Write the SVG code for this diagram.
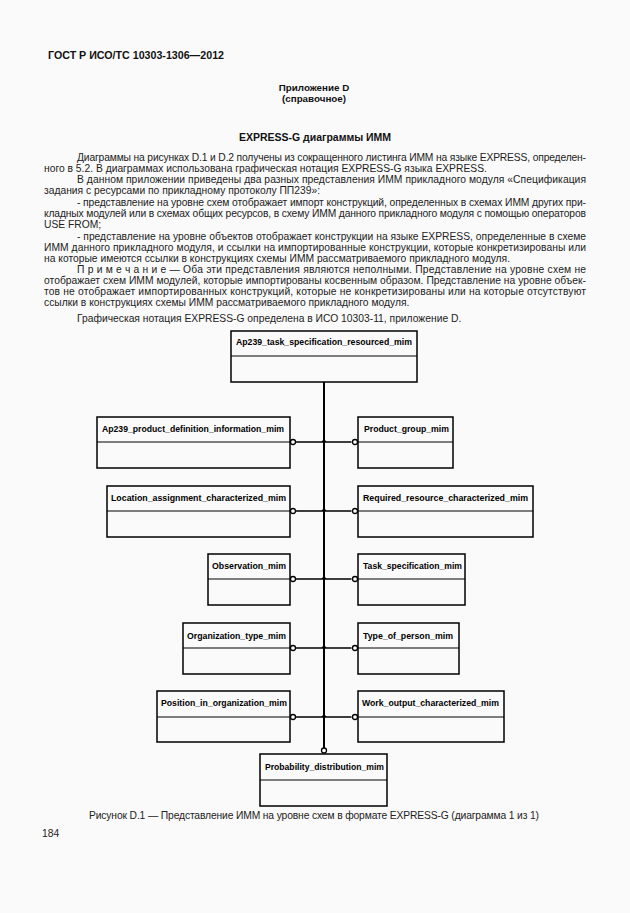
<svg xmlns="http://www.w3.org/2000/svg" width="630" height="913" viewBox="0 0 630 913">
<style>
.t{font-family:"Liberation Sans",Arial,sans-serif;font-size:10.3px;fill:#222}
.h{font-family:"Liberation Sans",Arial,sans-serif;font-weight:bold;fill:#111}
.box{fill:none;stroke:#000;stroke-width:1.5}
.div{stroke:#000;stroke-width:1}
.lbl{font-family:"Liberation Sans",Arial,sans-serif;font-weight:bold;font-size:8.5px;fill:#000}
.br{stroke:#000;stroke-width:1.4;fill:none}
.trunk{stroke:#000;stroke-width:2;fill:none}
.circ{fill:#fff;stroke:#000;stroke-width:1.3}
</style>
<rect width="630" height="913" fill="#fafafa"/>
<text class="h" x="48" y="59" font-size="10.5" textLength="176" lengthAdjust="spacingAndGlyphs">ГОСТ Р ИСО/ТС 10303-1306—2012</text>
<text class="h" x="314" y="91" font-size="9.8" text-anchor="middle">Приложение D</text>
<text class="h" x="314" y="101.5" font-size="9.8" text-anchor="middle">(справочное)</text>
<text class="h" x="315" y="141" font-size="10.5" text-anchor="middle">EXPRESS-G диаграммы ИММ</text>
<g id="body">
<text class="t" x="77" y="160.5" textLength="509" lengthAdjust="spacing">Диаграммы на рисунках D.1 и D.2 получены из сокращенного листинга ИММ на языке EXPRESS, определен-</text>
<text class="t" x="44" y="171.5">ного в 5.2. В диаграммах использована графическая нотация EXPRESS-G языка EXPRESS.</text>
<text class="t" x="77" y="183" textLength="509" lengthAdjust="spacing">В данном приложении приведены два разных представления ИММ прикладного модуля «Спецификация</text>
<text class="t" x="44" y="194">задания с ресурсами по прикладному протоколу ПП239»:</text>
<text class="t" x="77" y="206" textLength="509" lengthAdjust="spacing">- представление на уровне схем отображает импорт конструкций, определенных в схемах ИММ других при-</text>
<text class="t" x="44" y="216.5" textLength="542" lengthAdjust="spacing">кладных модулей или в схемах общих ресурсов, в схему ИММ данного прикладного модуля с помощью операторов</text>
<text class="t" x="44" y="227.5">USE FROM;</text>
<text class="t" x="77" y="240" textLength="509" lengthAdjust="spacing">- представление на уровне объектов отображает конструкции на языке EXPRESS, определенные в схеме</text>
<text class="t" x="44" y="250.5" textLength="542" lengthAdjust="spacing">ИММ данного прикладного модуля, и ссылки на импортированные конструкции, которые конкретизированы или</text>
<text class="t" x="44" y="261.5">на которые имеются ссылки в конструкциях схемы ИММ рассматриваемого прикладного модуля.</text>
<text class="t" x="77" y="273" textLength="509" lengthAdjust="spacing">П р и м е ч а н и е — Оба эти представления являются неполными. Представление на уровне схем не</text>
<text class="t" x="44" y="283.5" textLength="542" lengthAdjust="spacing">отображает схем ИММ модулей, которые импортированы косвенным образом. Представление на уровне объек-</text>
<text class="t" x="44" y="294.5" textLength="542" lengthAdjust="spacing">тов не отображает импортированных конструкций, которые не конкретизированы или на которые отсутствуют</text>
<text class="t" x="44" y="305.5">ссылки в конструкциях схемы ИММ рассматриваемого прикладного модуля.</text>
<text class="t" x="77" y="321.5">Графическая нотация EXPRESS-G определена в ИСО 10303-11, приложение D.</text>
</g>
<g id="connectors">
<path class="trunk" d="M324,382 V748"/>
<path class="br" d="M295.5,442 H351.5 M295.5,511 H351.5 M295.5,579 H351.5 M295.5,648 H351.5 M295.5,717 H351.5"/>
<path d="M321.5,442 L324,438.5 L326.5,442 Z M321.5,511 L324,507.5 L326.5,511 Z M321.5,579 L324,575.5 L326.5,579 Z M321.5,648 L324,644.5 L326.5,648 Z M321.5,717 L324,713.5 L326.5,717 Z" fill="#000"/>
<circle class="circ" cx="293" cy="442" r="2.5"/><circle class="circ" cx="355" cy="442" r="2.5"/>
<circle class="circ" cx="293" cy="511" r="2.5"/><circle class="circ" cx="355" cy="511" r="2.5"/>
<circle class="circ" cx="293" cy="579" r="2.5"/><circle class="circ" cx="355" cy="579" r="2.5"/>
<circle class="circ" cx="293" cy="648" r="2.5"/><circle class="circ" cx="355" cy="648" r="2.5"/>
<circle class="circ" cx="293" cy="717" r="2.5"/><circle class="circ" cx="355" cy="717" r="2.5"/>
<circle class="circ" cx="324" cy="750.5" r="2.5"/>
</g>
<g id="n_top"><rect class="box" x="231" y="331" width="186" height="51"/><line class="div" x1="231" y1="356" x2="417" y2="356"/><text class="lbl" x="236" y="345" textLength="176" lengthAdjust="spacingAndGlyphs">Ap239_task_specification_resourced_mim</text></g>
<g id="n_pdi"><rect class="box" x="97" y="417" width="193" height="51"/><line class="div" x1="97" y1="442" x2="290" y2="442"/><text class="lbl" x="102" y="432" textLength="182" lengthAdjust="spacingAndGlyphs">Ap239_product_definition_information_mim</text></g>
<g id="n_pg"><rect class="box" x="358" y="417" width="95" height="51"/><line class="div" x1="358" y1="442" x2="453" y2="442"/><text class="lbl" x="364" y="432" textLength="85" lengthAdjust="spacingAndGlyphs">Product_group_mim</text></g>
<g id="n_loc"><rect class="box" x="107" y="486" width="183" height="51"/><line class="div" x1="107" y1="511" x2="290" y2="511"/><text class="lbl" x="111" y="501" textLength="175" lengthAdjust="spacingAndGlyphs">Location_assignment_characterized_mim</text></g>
<g id="n_req"><rect class="box" x="358" y="486" width="175" height="51"/><line class="div" x1="358" y1="511" x2="533" y2="511"/><text class="lbl" x="363" y="501" textLength="165" lengthAdjust="spacingAndGlyphs">Required_resource_characterized_mim</text></g>
<g id="n_obs"><rect class="box" x="208" y="554" width="82" height="51"/><line class="div" x1="208" y1="579" x2="290" y2="579"/><text class="lbl" x="212" y="569" textLength="74" lengthAdjust="spacingAndGlyphs">Observation_mim</text></g>
<g id="n_task"><rect class="box" x="358" y="554" width="107" height="51"/><line class="div" x1="358" y1="579" x2="465" y2="579"/><text class="lbl" x="363" y="569" textLength="99" lengthAdjust="spacingAndGlyphs">Task_specification_mim</text></g>
<g id="n_org"><rect class="box" x="183" y="623" width="107" height="51"/><line class="div" x1="183" y1="648" x2="290" y2="648"/><text class="lbl" x="187" y="639" textLength="99" lengthAdjust="spacingAndGlyphs">Organization_type_mim</text></g>
<g id="n_top2"><rect class="box" x="358" y="623" width="101" height="51"/><line class="div" x1="358" y1="648" x2="459" y2="648"/><text class="lbl" x="363" y="639" textLength="90" lengthAdjust="spacingAndGlyphs">Type_of_person_mim</text></g>
<g id="n_pos"><rect class="box" x="157" y="691" width="133" height="51"/><line class="div" x1="157" y1="717" x2="290" y2="717"/><text class="lbl" x="161" y="706" textLength="126" lengthAdjust="spacingAndGlyphs">Position_in_organization_mim</text></g>
<g id="n_work"><rect class="box" x="358" y="691" width="146" height="51"/><line class="div" x1="358" y1="717" x2="504" y2="717"/><text class="lbl" x="362" y="706" textLength="137" lengthAdjust="spacingAndGlyphs">Work_output_characterized_mim</text></g>
<g id="n_prob"><rect class="box" x="260" y="754" width="127" height="52"/><line class="div" x1="260" y1="780" x2="387" y2="780"/><text class="lbl" x="265" y="770" textLength="119" lengthAdjust="spacingAndGlyphs">Probability_distribution_mim</text></g>
<text class="t" x="314" y="819" text-anchor="middle" textLength="450" lengthAdjust="spacing">Рисунок  D.1 — Представление ИММ на уровне схем в формате EXPRESS-G (диаграмма 1 из 1)</text>
<text class="t" x="42" y="837">184</text>
</svg>
